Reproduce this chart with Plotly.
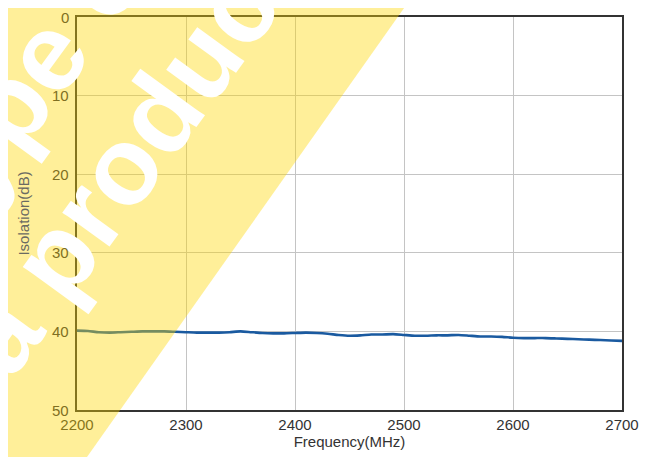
import plotly.graph_objects as go

# Data
freq_mhz = [2200, 2210, 2220, 2230, 2240, 2250, 2260, 2270, 2280, 2290,
            2300, 2310, 2320, 2330, 2340, 2350, 2360, 2370, 2380, 2390,
            2400, 2410, 2420, 2430, 2440, 2450, 2460, 2470, 2480, 2490,
            2500, 2510, 2520, 2530, 2540, 2550, 2560, 2570, 2580, 2590,
            2600, 2610, 2620, 2630, 2640, 2650, 2660, 2670, 2680, 2690, 2700]
isolation_db = [39.9, 39.95, 40.1, 40.15, 40.1, 40.05, 40.0, 40.0, 40.0, 40.05,
                40.1, 40.15, 40.15, 40.15, 40.1, 40.0, 40.1, 40.2, 40.25, 40.25,
                40.2, 40.15, 40.2, 40.3, 40.45, 40.55, 40.5, 40.4, 40.4, 40.35,
                40.45, 40.55, 40.55, 40.5, 40.5, 40.45, 40.55, 40.65, 40.65, 40.7,
                40.8, 40.85, 40.85, 40.85, 40.9, 40.95, 41.0, 41.05, 41.1, 41.15, 41.2]
x_ticks = [2200, 2300, 2400, 2500, 2600, 2700]
y_ticks = [0, 10, 20, 30, 40, 50]
watermark_lines = ["prototype of", "a product"]
x_title = "Frequency(MHz)"
y_title = "Isolation(dB)"

FONT = "Liberation Sans, Arial, sans-serif"

fig = go.Figure()
fig.add_trace(go.Scatter(
    x=freq_mhz, y=isolation_db, mode="lines",
    line=dict(color="#1a5aa0", width=2.6, shape="spline", smoothing=0.6),
    showlegend=False, hoverinfo="skip",
))

fig.update_layout(
    width=643, height=449,
    margin=dict(l=69, r=29, t=9, b=47),
    paper_bgcolor="white", plot_bgcolor="white",
    font=dict(family=FONT, size=15, color="#333333"),
    xaxis=dict(
        range=[2200, 2700], tickvals=x_ticks, ticktext=[str(v) for v in x_ticks],
        showgrid=True, gridcolor="#c4c4c4", gridwidth=1,
        showline=True, linecolor="#333333", linewidth=1.5, mirror=True,
        ticks="", zeroline=False, automargin=False,
        tickfont=dict(size=15, color="#333333"),
        title=dict(text=x_title, font=dict(size=15, color="#333333"), standoff=2),
    ),
    yaxis=dict(
        range=[50, 0], tickvals=y_ticks, showticklabels=False,
        showgrid=True, gridcolor="#c4c4c4", gridwidth=1,
        showline=True, linecolor="#333333", linewidth=1.5, mirror=True,
        ticks="", zeroline=False, automargin=False,
    ),
)

# translucent yellow band (paper coords)
fig.add_shape(
    type="path", xref="paper", yref="paper", layer="above",
    path="M -0.2 1.1 L 0.6394 1.1 L -0.0226 -0.2 L -0.2 -0.2 Z",
    fillcolor="rgba(255,215,0,0.4)", line=dict(width=0),
)

# white watermark text
wm_pos = [(-0.2255, 0.583), (0.092, 0.646)]
for txt, (px, py) in zip(watermark_lines, wm_pos):
    fig.add_annotation(
        x=px, y=py, xref="paper", yref="paper", text="<b>" + txt + "</b>",
        showarrow=False, textangle=-54, xanchor="center", yanchor="middle",
        font=dict(family=FONT, size=110, color="white"),
    )

# y tick labels (drawn on top of the watermark, tinted by the yellow band)
for v in y_ticks:
    fig.add_annotation(
        x=-0.011, y=v, xref="paper", yref="y", text=str(v),
        showarrow=False, xanchor="right", yanchor="middle",
        font=dict(family=FONT, size=15, color="#7f6f22"),
    )

# y-axis title on top of the watermark
fig.add_annotation(
    x=-0.099, y=0.5, xref="paper", yref="paper", text=y_title,
    showarrow=False, textangle=-90, xanchor="center", yanchor="middle",
    font=dict(family=FONT, size=15, color="#6a6a62"),
)

fig.write_html("out.html")
